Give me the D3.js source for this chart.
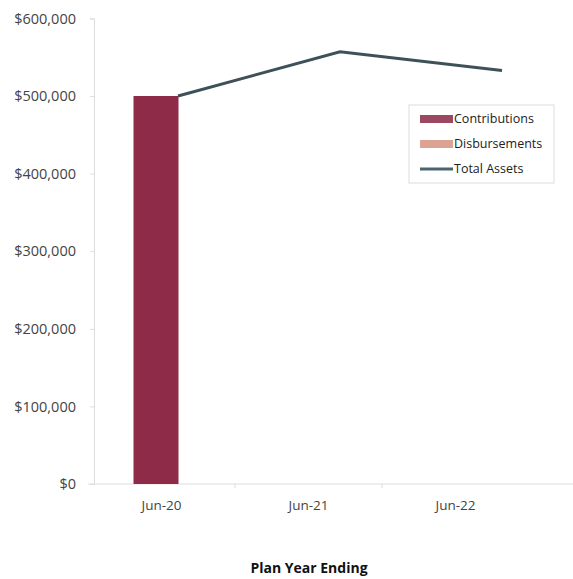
<!DOCTYPE html>
<html>
<head>
<meta charset="utf-8">
<script src="https://cdn.jsdelivr.net/npm/d3@7"></script>
<style>
  body { margin: 0; background: #fff; }
  text { font-family: "Open Sans", sans-serif; }
</style>
</head>
<body>
<div id="chart"></div>
<script>
const categories = ["Jun-20", "Jun-21", "Jun-22"];
const contributions = [500000, 0, 0];
const disbursements = [0, 0, 0];
const totalAssets = [500000, 557000, 533000];
const yTicks = [0, 100000, 200000, 300000, 400000, 500000, 600000];
const seriesNames = ["Contributions", "Disbursements", "Total Assets"];

const width = 573;
const height = 579;

const contribColor = "#8e2b48";
const disbColor = "#dca394";
const lineColor = "#3e5159";

const svg = d3.select("#chart")
  .append("svg")
  .attr("width", width)
  .attr("height", height);

// Scales
const x = d3.scaleBand().domain(categories).range([88, 529]);
const xLine = d3.scalePoint().domain(categories).range([178, 502]);
const y = d3.scaleLinear().domain([0, 600000]).range([484, 18.4]);

// Y axis
const yAxis = svg.append("g")
  .attr("transform", "translate(94,0)")
  .call(d3.axisLeft(y).tickValues(yTicks).tickSize(4).tickPadding(14)
    .tickFormat(d => "$" + d3.format(",")(d)));
yAxis.select(".domain").attr("stroke", "#ddd");
yAxis.selectAll(".tick line").attr("stroke", "#ddd");
yAxis.selectAll("text")
  .attr("fill", "#444")
  .style("font-size", "14.5px");

// X axis
const xAxis = svg.append("g")
  .attr("transform", `translate(0,${y(0)})`)
  .call(d3.axisBottom(x).tickSize(0).tickPadding(16));
xAxis.select(".domain").attr("stroke", "#ddd").attr("d", "M88,0H573");
xAxis.selectAll("text")
  .attr("fill", "#444")
  .style("font-size", "13.5px");
// boundary ticks
xAxis.selectAll(".bound")
  .data(categories.slice(1))
  .join("line")
  .attr("class", "bound")
  .attr("x1", d => x(d)).attr("x2", d => x(d))
  .attr("y1", 0).attr("y2", 4)
  .attr("stroke", "#ddd");

// Bars (grouped: contributions, disbursements)
const barW = 45;
svg.append("g")
  .selectAll("rect")
  .data(categories.map((c, i) => ({ c, v: contributions[i] })))
  .join("rect")
  .attr("x", d => x(d.c) + x.bandwidth() / 2 - barW + 17)
  .attr("width", barW)
  .attr("y", d => y(d.v))
  .attr("height", d => y(0) - y(d.v))
  .attr("fill", contribColor);

svg.append("g")
  .selectAll("rect")
  .data(categories.map((c, i) => ({ c, v: disbursements[i] })))
  .join("rect")
  .attr("x", d => x(d.c) + x.bandwidth() / 2 + 17)
  .attr("width", barW)
  .attr("y", d => y(d.v))
  .attr("height", d => y(0) - y(d.v))
  .attr("fill", disbColor);

// Total assets line
const line = d3.line()
  .x((d, i) => xLine(categories[i]))
  .y(d => y(d));
svg.append("path")
  .datum(totalAssets)
  .attr("d", line)
  .attr("fill", "none")
  .attr("stroke", lineColor)
  .attr("stroke-width", 3);

// Legend
const legend = svg.append("g").attr("transform", "translate(409,105)");
legend.append("rect")
  .attr("width", 145).attr("height", 78)
  .attr("fill", "#fff").attr("stroke", "#ddd");
const items = legend.selectAll(".item")
  .data(seriesNames)
  .join("g")
  .attr("class", "item")
  .attr("transform", (d, i) => `translate(11,${14 + i * 25})`);
items.append("rect")
  .attr("x", 0)
  .attr("y", (d, i) => i === 2 ? -1.5 : -4)
  .attr("width", 33)
  .attr("height", (d, i) => i === 2 ? 3 : 8)
  .attr("fill", (d, i) => ["#9d4862", "#dca394", "#4a6470"][i]);
items.append("text")
  .attr("x", 34)
  .attr("dy", "0.35em")
  .attr("fill", "#222")
  .style("font-size", "12.5px")
  .text(d => d);

// Axis title
svg.append("text")
  .attr("x", 309)
  .attr("y", 573)
  .attr("text-anchor", "middle")
  .attr("font-weight", "bold")
  .attr("fill", "#111")
  .style("font-size", "14px")
  .text("Plan Year Ending");
</script>
</body>
</html>
